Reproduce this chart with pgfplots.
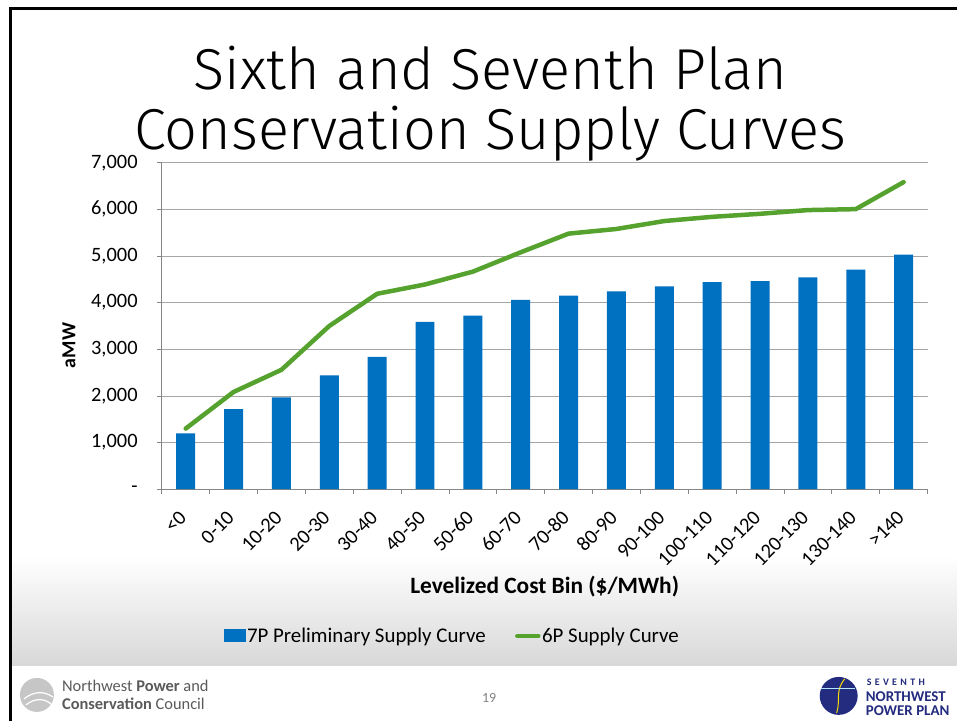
\documentclass[border=0pt]{standalone}
\usepackage{pgfplots}
\pgfplotsset{compat=1.18}
\usepackage{fontspec}
\setmainfont{Carlito}
\newfontfamily\titlefont{Fira Sans Light}

\definecolor{barblue}{HTML}{0070C0}
\definecolor{linegreen}{HTML}{56A22E}
\definecolor{gridgray}{HTML}{A6A6A6}
\definecolor{axisgray}{HTML}{868686}
\definecolor{navy}{HTML}{232C7E}
\definecolor{logogray}{HTML}{5A5A5A}

\begin{document}
\begin{tikzpicture}[x=1bp,y=1bp]
% slide background
\fill[white] (0,0) rectangle (958,722);
\shade[top color=white, bottom color={rgb,255:red,216;green,216;blue,216}] (11,55) rectangle (958,165);
\draw[black, line width=3bp] (10.5,0) -- (10.5,713.5) -- (958,713.5);

% title
\node[anchor=base, font=\titlefont\fontsize{58}{60}\selectfont] at (491,632) {Sixth and Seventh Plan};
\node[anchor=base, font=\titlefont\fontsize{58}{60}\selectfont] at (491,572) {Conservation Supply Curves};

\begin{axis}[
  at={(162bp,232bp)}, anchor=south west,
  scale only axis, width=767bp, height=327bp,
  xmin=-0.5, xmax=15.5, ymin=0, ymax=7000,
  axis lines*=left,
  axis line style={axisgray, line width=0.8bp, -},
  ymajorgrids, grid style={gridgray, line width=0.8bp},
  tick align=outside, major tick length=5bp, minor tick length=5bp,
  tick style={axisgray, line width=0.8bp},
  xtick={0,...,15},
  xticklabels={{<0},{0-10},{10-20},{20-30},{30-40},{40-50},{50-60},{60-70},{70-80},{80-90},{90-100},{100-110},{110-120},{120-130},{130-140},{>140}},
  major x tick style={draw=none},
  minor xtick={-0.5,0.5,...,15.5},
  ytick={0,1000,...,7000},
  yticklabels={{-\hspace{12bp}},{1,000},{2,000},{3,000},{4,000},{5,000},{6,000},{7,000}},
  tick label style={font=\fontsize{20.5}{21}\selectfont, text=black},
  yticklabel style={inner sep=0pt, xshift=-19bp},
  xticklabel style={rotate=45, anchor=east, inner sep=0pt, xshift=-16bp, yshift=-12bp},
  xlabel={\textbf{Levelized Cost Bin (\$/MWh)}},
  xlabel style={font=\fontsize{23.5}{25}\selectfont, at={(axis description cs:0.5,-0.297)}, anchor=center},
  ylabel={\textbf{aMW}},
  ylabel style={font=\fontsize{20}{22}\selectfont, at={(axis description cs:-0.121,0.44)}, anchor=center},
  legend columns=2,
  legend style={at={(axis description cs:0.379,-0.4495)}, anchor=center, draw=none, fill=none,
    font=\fontsize{21}{22}\selectfont, nodes={inner sep=1.5bp},
    /tikz/every even column/.append style={column sep=28bp}},
]
\addplot[ybar, bar width=19bp, fill=barblue, draw=none,
  legend image code/.code={\fill[barblue] (0bp,-6.5bp) rectangle (22bp,6.5bp);}]
  coordinates {(0,1200) (1,1720) (2,1970) (3,2440) (4,2840) (5,3590) (6,3720) (7,4060)
               (8,4150) (9,4240) (10,4350) (11,4440) (12,4460) (13,4540) (14,4710) (15,5030)};
\addlegendentry{7P Preliminary Supply Curve}
\addplot[linegreen, line width=4.5bp, line join=round, line cap=round, mark=none,
  legend image code/.code={\draw[linegreen, line width=4.5bp, line cap=round] (2bp,0bp) -- (23bp,0bp);}]
  coordinates {(0,1300) (1,2085) (2,2560) (3,3500) (4,4190) (5,4390) (6,4665) (7,5080)
               (8,5480) (9,5580) (10,5750) (11,5840) (12,5905) (13,5985) (14,6005) (15,6585)};
\addlegendentry{6P Supply Curve}
\end{axis}

% footer
\node[text=gray, font=\fontsize{14}{14}\selectfont] at (490,23) {19};
\fill[gray!45] (37,26) circle (17);
\draw[white, line width=1.2bp] (24,22) .. controls (34,30) and (44,30) .. (53,24);
\draw[white, line width=1.2bp] (26,16) .. controls (36,24) and (46,22) .. (52,16);
\node[anchor=west, text=logogray, font=\fontsize{16.5}{19}\selectfont, align=left, inner sep=0pt] at (62,26)
  {Northwest \textbf{Power} and\\\textbf{Conservation} Council};
\fill[navy] (840,25) circle (19);
\draw[yellow!80!orange, line width=1bp] (838,8) .. controls (842,20) and (836,30) .. (846,42);
\draw[white!70!cyan, line width=1bp] (822,32) -- (856,32);
\node[anchor=west, text=navy, font=\bfseries\fontsize{10}{10}\selectfont, inner sep=0pt] at (868,39) {S\,\,E\,\,V\,\,E\,\,N\,\,T\,\,H};
\node[anchor=west, text=navy, font=\bfseries\fontsize{15}{15}\selectfont, inner sep=0pt] at (867,24) {NORTHWEST};
\node[anchor=west, text=navy, font=\bfseries\fontsize{15}{15}\selectfont, inner sep=0pt] at (867,10) {POWER PLAN};
\end{tikzpicture}
\end{document}
